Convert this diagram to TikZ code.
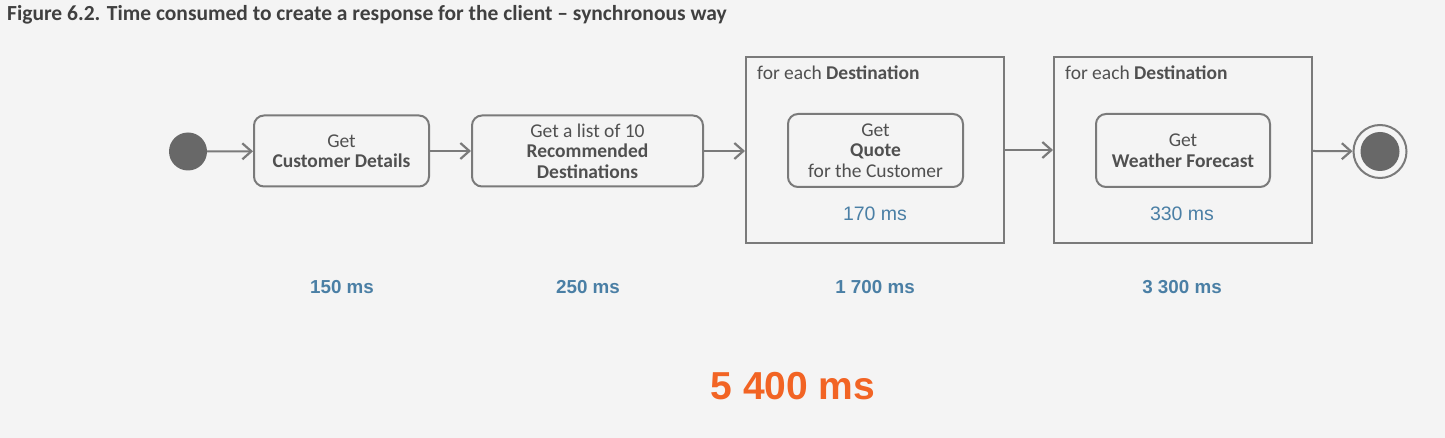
\documentclass[tikz,border=0pt]{standalone}
\usepackage{fontspec}
\setmainfont{Carlito}
\newfontfamily\numfont{Liberation Sans}
\usetikzlibrary{arrows.meta,positioning}
\definecolor{bgcol}{HTML}{F4F4F4}
\definecolor{linecol}{HTML}{7A7A7A}
\definecolor{textcol}{HTML}{505050}
\definecolor{timecol}{HTML}{4A7FA5}
\definecolor{totalcol}{HTML}{F26424}
\begin{document}
\begin{tikzpicture}[
        x=1pt, y=-1pt,
        activity/.style={draw=linecol, line width=2pt, rounded corners=10pt, text=textcol,
            align=center, inner sep=0pt, font=\fontsize{19.5}{20.5}\selectfont},
        loopframe/.style={draw=linecol, line width=2pt},
        framelabel/.style={anchor=west, text=textcol, inner sep=0pt, font=\fontsize{19.5}{21}\selectfont},
        flow/.style={draw=linecol, line width=2pt, -{Straight Barb[length=9pt, width=16pt, line width=2.2pt]}},
        inner time/.style={text=timecol, font=\numfont\fontsize{19.5}{22}\selectfont},
        step time/.style={text=timecol, font=\numfont\bfseries\fontsize{18.8}{22}\selectfont},
    ]
    \fill[bgcol] (0,0) rectangle (1445,438);
    \useasboundingbox (0,0) rectangle (1445,438);

    \node[anchor=west, text=textcol!80!black, inner sep=0pt, font=\bfseries\fontsize{21.5}{24}\selectfont]
        (title) at (7,15) {Figure 6.2. Time consumed to create a response for the client -- synchronous way};

    % start and end
    \node[circle, fill=linecol!85!black, minimum size=38pt, inner sep=0pt] (start) at (188,151.5) {};
    \node[circle, draw=linecol, line width=2pt, minimum size=53pt, inner sep=0pt] (finish) at (1380,151.5) {};
    \node[circle, fill=linecol!85!black, minimum size=39pt, inner sep=0pt] (finishdot) at (finish) {};

    % activities
    \node[activity, minimum width=175pt, minimum height=71pt] (details) at (341.5,151)
        {Get\\\textbf{Customer Details}};
    \node[activity, minimum width=231pt, minimum height=71pt] (destinations) at (587.5,151)
        {Get a list of 10\\\textbf{Recommended}\\\textbf{Destinations}};

    \node[loopframe, minimum width=258pt, minimum height=186pt] (quoteloop) at (875,150) {};
    \node[framelabel] (quotelabel) at (757,73) {for each \textbf{Destination}};
    \node[activity, minimum width=175pt, minimum height=73pt] (quote) at (875.5,150.5)
        {Get\\\textbf{Quote}\\for the Customer};
    \node[inner time] (quotetime) at (875,214) {170 ms};

    \node[loopframe, minimum width=258pt, minimum height=186pt] (weatherloop) at (1183,150) {};
    \node[framelabel] (weatherlabel) at (1065,73) {for each \textbf{Destination}};
    \node[activity, minimum width=174pt, minimum height=73pt] (weather) at (1183,150.5)
        {Get\\\textbf{Weather Forecast}};
    \node[inner time] (weathertime) at (1182,214) {330 ms};

    % flow
    \draw[flow] (start) -- (details);
    \draw[flow] (details) -- (destinations);
    \draw[flow] (destinations) -- (quoteloop.west |- destinations);
    \draw[flow] (quoteloop) -- (weatherloop);
    \draw[flow] (weatherloop) -- (finish);

    % times
    \node[step time] (t1) at (342,287) {150 ms};
    \node[step time] (t2) at (588,287) {250 ms};
    \node[step time] (t3) at (875,287) {1 700 ms};
    \node[step time] (t4) at (1182,287) {3 300 ms};
    \node[text=totalcol, font=\numfont\bfseries\fontsize{39}{44}\selectfont] (total) at (793,386) {5 400 ms};
\end{tikzpicture}
\end{document}
